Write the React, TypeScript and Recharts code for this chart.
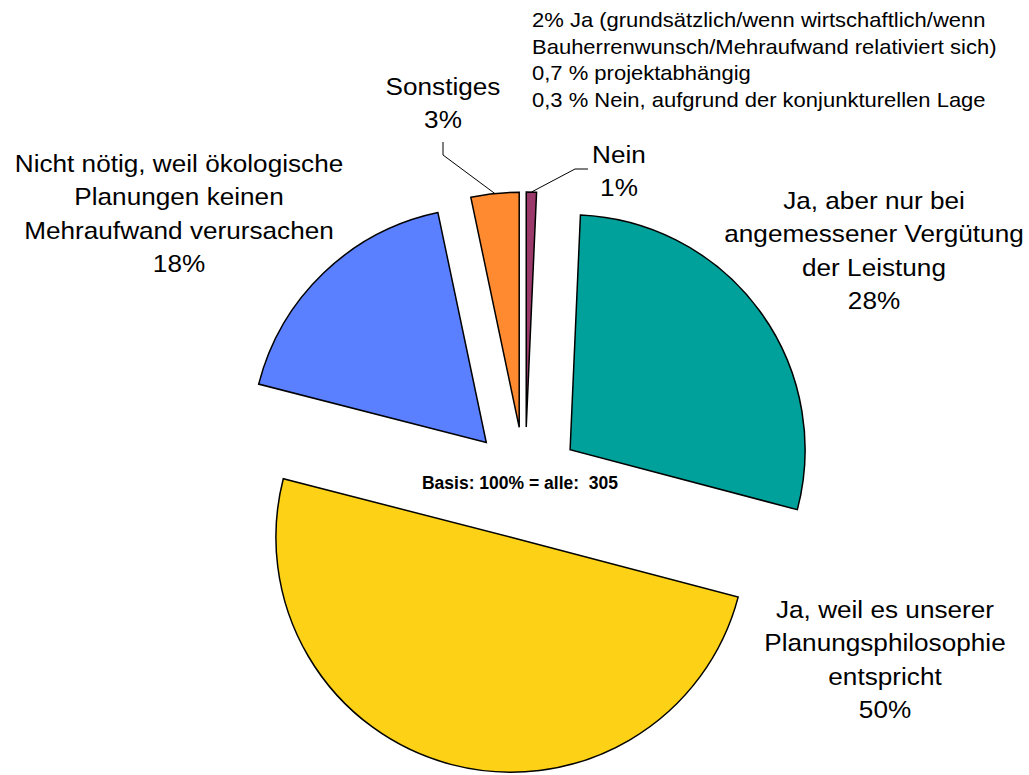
import { PieChart, Pie, Cell, Sector } from 'recharts'

// Anteile in %, Basis 305 Befragte
const categories = [
  'Nein',
  'Ja, aber nur bei angemessener Vergütung der Leistung',
  'Ja, weil es unserer Planungsphilosophie entspricht',
  'Nicht nötig, weil ökologische Planungen keinen Mehraufwand verursachen',
  'Sonstiges',
]
const shares = [0.7, 28.4, 49.9, 17.7, 3.3]
const base = 305
const labelLines = [
  ['Nein'],
  ['Ja, aber nur bei', 'angemessener Vergütung', 'der Leistung'],
  ['Ja, weil es unserer', 'Planungsphilosophie', 'entspricht'],
  ['Nicht nötig, weil ökologische', 'Planungen keinen', 'Mehraufwand verursachen'],
  ['Sonstiges'],
]
const colors = ['#9B3A6A', '#00A19A', '#FCD116', '#5A7FFF', '#FF8A30']
const notes = [
  '2% Ja (grundsätzlich/wenn wirtschaftlich/wenn',
  'Bauherrenwunsch/Mehraufwand relativiert sich)',
  '0,7 % projektabhängig',
  '0,3 % Nein, aufgrund der konjunkturellen Lage',
]

const data = categories.map((name, i) => ({ name, value: shares[i] }))

// Layout (nicht Daten): Label-Anker relativ zur Kreismitte, Führungslinien
const labelOffsets = [
  [94, -320],
  [349, -274],
  [360, 135],
  [-346, -311],
  [-82, -388],
]
const leaders: (number[][] | null)[] = [
  [[-31, 6], [-44, 6]],
  null,
  null,
  null,
  [[0, 47], [0, 60]],
]

const W = 1029
const H = 775
const CX = 525
const CY = 483
const R = 235
const EXPLODE = 56
const RAD = Math.PI / 180
const FONT = '"Liberation Sans", Arial, sans-serif'

const polar = (cx: number, cy: number, r: number, angle: number) => ({
  x: cx + r * Math.cos(-angle * RAD),
  y: cy + r * Math.sin(-angle * RAD),
})

const ExplodedSlice = (props: any) => {
  const c = polar(props.cx, props.cy, EXPLODE, props.midAngle)
  return <Sector {...props} cx={c.x} cy={c.y} />
}

const renderLabel = (props: any) => {
  const { index, midAngle, percent, outerRadius } = props
  const cx = props.cx ?? CX
  const cy = props.cy ?? CY
  const ax = cx + labelOffsets[index][0]
  const ay = cy + labelOffsets[index][1]
  const lines = [...labelLines[index], `${Math.round(percent * 100)}%`]
  const lead = leaders[index]
  let line = null
  if (lead) {
    const ec = polar(cx, cy, EXPLODE, midAngle)
    const end = polar(ec.x, ec.y, outerRadius, midAngle)
    const pts = [...lead.map(([dx, dy]) => `${ax + dx},${ay + dy}`), `${end.x},${end.y}`]
    line = <polyline points={pts.join(' ')} fill="none" stroke="#000" strokeWidth={1} />
  }
  return (
    <g key={`lbl-${index}`}>
      {line}
      <text
        transform={`translate(${ax},${ay}) scale(1.09,1)`}
        textAnchor="middle"
        fontSize={24}
        fontFamily={FONT}
        fill="#000"
      >
        {lines.map((t, i) => (
          <tspan key={i} x={0} y={i * 33.5}>
            {t}
          </tspan>
        ))}
      </text>
    </g>
  )
}

export default function App() {
  return (
    <div style={{ position: 'absolute', left: 0, top: 0, width: W, height: H, background: '#fff' }}>
      <PieChart width={W} height={H} margin={{ top: 0, right: 0, bottom: 0, left: 0 }}>
        <Pie
          data={data}
          dataKey="value"
          nameKey="name"
          cx={CX}
          cy={CY}
          outerRadius={R}
          startAngle={90}
          endAngle={-270}
          stroke="#000"
          strokeWidth={1.5}
          shape={ExplodedSlice}
          activeShape={ExplodedSlice}
          inactiveShape={ExplodedSlice}
          label={renderLabel}
          labelLine={false}
          isAnimationActive={false}
        >
          {data.map((d, i) => (
            <Cell key={d.name} fill={colors[i]} />
          ))}
        </Pie>
      </PieChart>
      <svg
        width={W}
        height={H}
        style={{ position: 'absolute', left: 0, top: 0, pointerEvents: 'none' }}
      >
        <text
          x={CX - 5}
          y={CY + 6}
          textAnchor="middle"
          fontSize={17.5}
          fontWeight="bold"
          fontFamily={FONT}
          fill="#000"
          style={{ whiteSpace: 'pre' }}
        >
          {`Basis: 100% = alle:  ${base}`}
        </text>
        <text
          transform="translate(532,27) scale(1.1,1)"
          fontSize={20}
          fontFamily={FONT}
          fill="#000"
        >
          {notes.map((t, i) => (
            <tspan key={i} x={0} y={i * 26.7}>
              {t}
            </tspan>
          ))}
        </text>
      </svg>
    </div>
  )
}
